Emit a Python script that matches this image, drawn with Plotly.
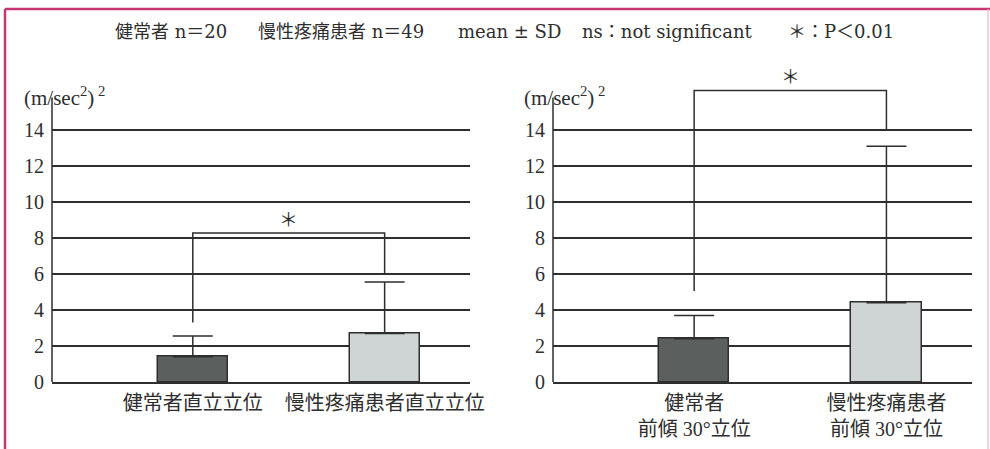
import plotly.graph_objects as go

# ---- data ----
left_labels = ["健常者直立立位", "慢性疼痛患者直立立位"]
right_labels = ["健常者<br>前傾 30°立位", "慢性疼痛患者<br>前傾 30°立位"]
left_mean = [1.4, 2.7]
left_sd = [1.15, 2.85]
right_mean = [2.4, 4.4]
right_sd = [1.3, 8.7]
# significance brackets: [left leg bottom, top, right leg bottom]
left_bracket = [3.3, 8.28, 6.05]
right_bracket = [5.05, 16.2, 13.95]
sig_mark = "＊"
y_ticks = [0, 2, 4, 6, 8, 10, 12, 14]
title_parts = ["健常者 n＝20", "慢性疼痛患者 n＝49", "mean ± SD",
               "ns：not significant", "＊：P＜0.01"]
unit_text = "(m/sec<sup>2</sup>)<sup> 2</sup>"

bar_colors = ["#5b605f", "#cfd4d4"]
ink = "#2e2e2e"
FONT = "Liberation Serif, Times New Roman, DejaVu Serif, Noto Sans CJK JP, serif"
TITLE_FONT = "DejaVu Serif, Noto Sans CJK JP, serif"

W, H = 990, 449
y0_px, px_per_unit = 382, 18.0
ymax = 17.2
axis_top_val = 15.8

def py(p):
    return 1 - p / H

fig = go.Figure()

for i, (means, sds, br, xa, ya) in enumerate([
        (left_mean, left_sd, left_bracket, "x", "y"),
        (right_mean, right_sd, right_bracket, "x2", "y2")]):
    fig.add_trace(go.Bar(
        x=[0, 1], y=means, width=0.365,
        marker=dict(color=bar_colors, line=dict(color=ink, width=1.5)),
        error_y=dict(type="data", array=sds, arrayminus=[0, 0], symmetric=False,
                     color=ink, thickness=1.5, width=20),
        xaxis=xa, yaxis=ya, showlegend=False, hoverinfo="y"))
    fig.add_trace(go.Scatter(
        x=[0, 0, 1, 1], y=[br[0], br[1], br[1], br[2]], mode="lines",
        line=dict(color=ink, width=1.5), xaxis=xa, yaxis=ya,
        showlegend=False, hoverinfo="skip"))
    fig.add_annotation(x=0.5, y=br[1] + 0.72, xref=xa, yref=ya, text=sig_mark,
                       showarrow=False, font=dict(size=19, color=ink, family=FONT))
    # y axis vertical line (stops below top of plotting area)
    fig.add_shape(type="line", xref=f"{xa} domain", x0=0, x1=0, yref=ya,
                  y0=0, y1=axis_top_val, line=dict(color=ink, width=1.5))

xr = [-0.734, 1.445]
ydom = [py(y0_px), py(y0_px - ymax * px_per_unit)]
common_x = dict(range=xr, showgrid=False, zeroline=False, showline=True,
                linecolor=ink, linewidth=1.5, ticks="", tickvals=[0, 1],
                automargin=False, ticklabelstandoff=2,
                tickfont=dict(size=20, color=ink, family=FONT), fixedrange=True)
common_y = dict(range=[0, ymax], domain=ydom, tickvals=y_ticks, showgrid=True,
                gridcolor=ink, gridwidth=1.5, zeroline=False, showline=False,
                ticks="", ticklabelstandoff=7, automargin=False,
                tickfont=dict(size=20, color=ink, family=FONT), fixedrange=True)

fig.update_layout(
    width=W, height=H, margin=dict(l=0, r=0, t=0, b=0, autoexpand=False),
    paper_bgcolor="white", plot_bgcolor="rgba(0,0,0,0)",
    font=dict(family=FONT, color=ink),
    xaxis=dict(domain=[52 / W, 470 / W], ticktext=left_labels, anchor="y", **common_x),
    yaxis=dict(anchor="x", **common_y),
    xaxis2=dict(domain=[553 / W, 972 / W], ticktext=right_labels, anchor="y2", **common_x),
    yaxis2=dict(anchor="x2", **common_y),
    bargap=0,
)

# title (segments) and unit labels
for txt, tx in zip(title_parts, [113, 256, 456, 580, 786]):
    fig.add_annotation(x=tx / W, y=py(19), xref="paper", yref="paper", text=txt,
                       xanchor="left", showarrow=False,
                       font=dict(size=18, color=ink, family=TITLE_FONT))
for ux in (22, 522):
    fig.add_annotation(x=ux / W, y=py(81), xref="paper", yref="paper", text=unit_text,
                       xanchor="left", showarrow=False,
                       font=dict(size=21, color=ink, family=FONT))

# pink frame
frame = "#c93472"
fig.add_shape(type="line", xref="paper", yref="paper", x0=5 / W, x1=990 / W,
              y0=py(9), y1=py(9), line=dict(color=frame, width=2.5))
fig.add_shape(type="line", xref="paper", yref="paper", x0=5 / W, x1=5 / W,
              y0=py(9), y1=0, line=dict(color=frame, width=2.5))
fig.add_shape(type="line", xref="paper", yref="paper", x0=988 / W, x1=988 / W,
              y0=py(9), y1=0, line=dict(color="#ecb6cb", width=1.2))

fig.write_html("out.html", config={"displayModeBar": False},
               post_script="document.body.style.margin='0px';")
